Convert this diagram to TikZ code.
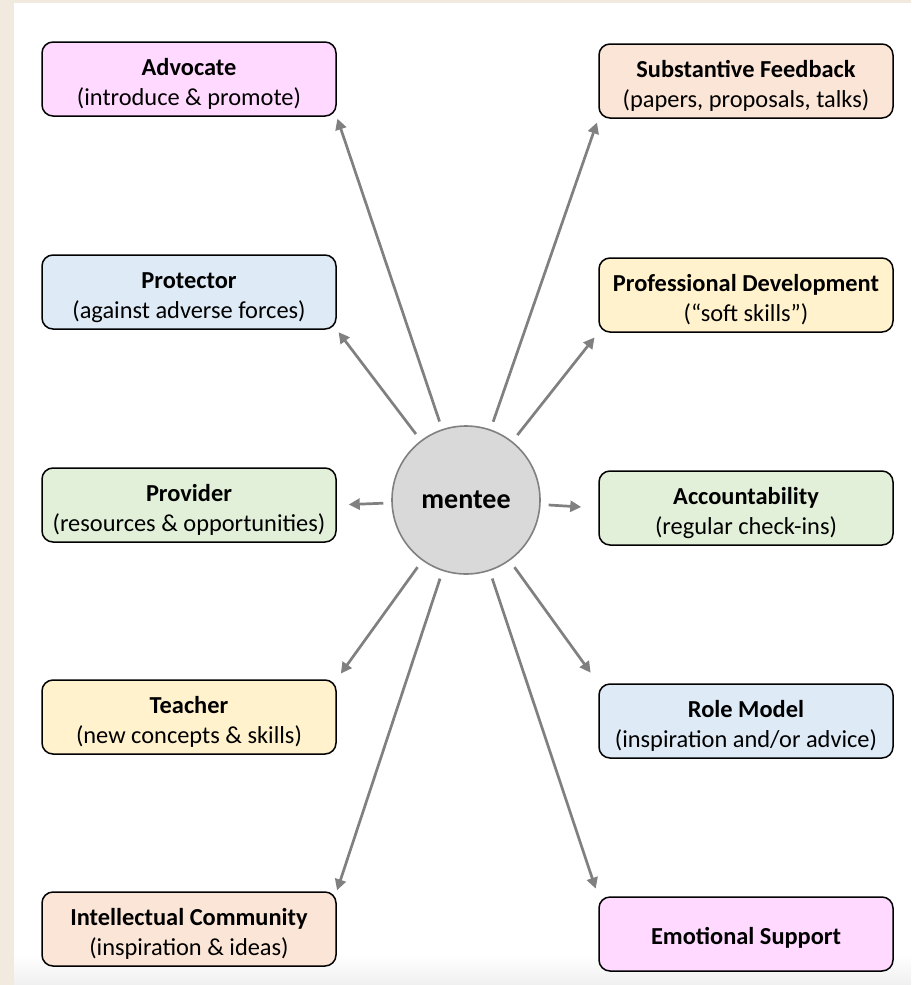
\documentclass[tikz,border=0pt]{standalone}
\usepackage{fontspec}
\setmainfont{Carlito}
\usetikzlibrary{arrows.meta}
\definecolor{beigebg}{HTML}{F3EADF}
\definecolor{pinkc}{HTML}{FFD9FF}
\definecolor{peachc}{HTML}{FBE5D6}
\definecolor{bluec}{HTML}{DEEBF7}
\definecolor{yellowc}{HTML}{FFF2CC}
\definecolor{greenc}{HTML}{E2F0D9}
\definecolor{circc}{HTML}{D9D9D9}
\definecolor{arrowc}{HTML}{808080}
\begin{document}
\begin{tikzpicture}[x=1pt,y=-1pt,
  box/.style={draw=black, line width=1.5pt, rounded corners=11pt, minimum width=294pt, minimum height=74pt,
    align=center, inner sep=0pt, font=\fontsize{24.4}{30}\selectfont,
    execute at begin node={\rule{0pt}{24pt}}},
  twoline/.style={box, text height=56.6pt, text depth=4pt},
  conn/.style={draw=arrowc, line width=2.7pt, -{Triangle[length=11pt,width=11pt]}, shorten <=8pt}]
\useasboundingbox (0,0) rectangle (911,985);
\fill[beigebg] (0,0) rectangle (911,985);
\fill[white] (14,3) rectangle (911,985);
\shade[top color=white, bottom color=black!6] (14,955) rectangle (911,985);

\node[twoline, fill=pinkc] (adv) at (189,79) {\textbf{Advocate}\\(introduce \& promote)};
\node[twoline, fill=bluec] (prot) at (189,292) {\textbf{Protector}\\(against adverse forces)};
\node[twoline, fill=greenc] (prov) at (189,505) {\textbf{Provider}\\(resources \& opportunities)};
\node[twoline, fill=yellowc] (teach) at (189,717) {\textbf{Teacher}\\(new concepts \& skills)};
\node[twoline, fill=peachc] (intel) at (189,929) {\textbf{Intellectual Community}\\(inspiration \& ideas)};

\node[twoline, fill=peachc] (subst) at (746,81) {\textbf{Substantive Feedback}\\(papers, proposals, talks)};
\node[twoline, fill=yellowc] (prof) at (746,295) {\textbf{Professional Development}\\(“soft skills”)};
\node[twoline, fill=greenc] (acc) at (746,508) {\textbf{Accountability}\\(regular check-ins)};
\node[twoline, fill=bluec] (role) at (746,721) {\textbf{Role Model}\\(inspiration and/or advice)};
\node[box, fill=pinkc] (emo) at (746,934) {\textbf{Emotional Support}};

\node[circle, draw=arrowc, fill=circc, line width=1.6pt, minimum size=148pt, inner sep=0pt,
  font=\bfseries\fontsize{28}{32}\selectfont] (m) at (466,500) {mentee};

\draw[conn, shorten >=2pt] (m) -- (adv.south east);
\draw[conn, shorten >=3pt] (m) -- (prot.south east);
\draw[conn, shorten >=12pt] (m) -- (prov.east);
\draw[conn, shorten >=7pt] (m) -- (teach.north east);
\draw[conn, shorten >=1pt] (m) -- (intel.north east);
\draw[conn, shorten >=4pt] (m) -- (subst.south west);
\draw[conn, shorten >=6pt] (m) -- (prof.south west);
\draw[conn, shorten >=17pt] (m) -- (acc.west);
\draw[conn, shorten >=13pt] (m) -- (role.north west);
\draw[conn, shorten >=8pt] (m) -- (emo.north west);
\end{tikzpicture}
\end{document}
